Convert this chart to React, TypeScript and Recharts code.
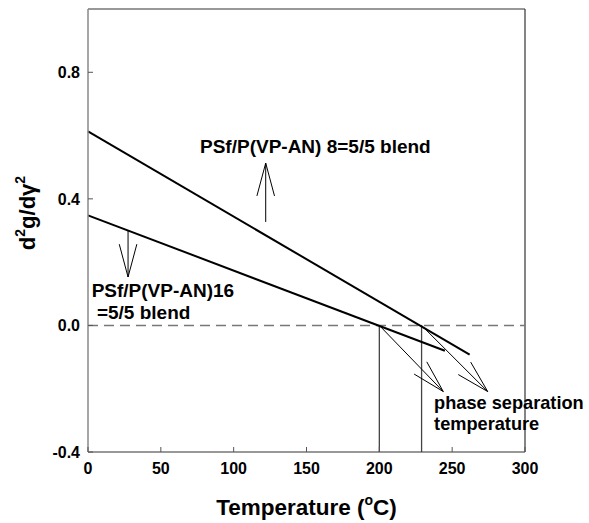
import { LineChart, Line, XAxis, YAxis, ReferenceLine, ReferenceDot } from 'recharts'

// straight-line fits (temperature in °C, d2g/dγ2)
const upperT = [0, 262]
const upperV = [0.613, -0.092]
const lowerT = [0, 245]
const lowerV = [0.348, -0.08]

const xTicks = [0, 50, 100, 150, 200, 250, 300]
const yTicks = [-0.4, 0, 0.4, 0.8]

// phase separation temperatures (zero crossings)
const phaseT = [200, 229]

// annotation arrows: tail -> tip, in data units
const arrowTails = [[122, 0.327], [27.5, 0.3], [200, 0], [229, 0]]
const arrowTips = [[122, 0.513], [27.5, 0.153], [243.9, -0.209], [274.4, -0.209]]

const blend8Label = ['PSf/P(VP-AN) 8=5/5 blend']
const blend16Label = ['PSf/P(VP-AN)16', ' =5/5 blend']
const phaseLabel = ['phase separation', 'temperature']
const labelAnchors = [[76.9, 0.545], [2.5, 0.0895], [237.6, -0.263]]

const FONT = '"Liberation Sans", Arial, sans-serif'

const upper = upperT.map((t, i) => ({ x: t, y: upperV[i] }))
const lower = lowerT.map((t, i) => ({ x: t, y: lowerV[i] }))

function Arrow(p: any) {
  const { x1, y1, x2, y2 } = p
  const ang = Math.atan2(y1 - y2, x1 - x2)
  const L = 34
  const a = (15 * Math.PI) / 180
  const h1x = x2 + L * Math.cos(ang + a)
  const h1y = y2 + L * Math.sin(ang + a)
  const h2x = x2 + L * Math.cos(ang - a)
  const h2y = y2 + L * Math.sin(ang - a)
  return (
    <g stroke="#000" strokeWidth={1} fill="none">
      <line x1={x1} y1={y1} x2={x2} y2={y2} />
      <line x1={x2} y1={y2} x2={h1x} y2={h1y} />
      <line x1={x2} y1={y2} x2={h2x} y2={h2y} />
    </g>
  )
}

const textBlock = (lines: string[], step: number, size: number) => (p: any) => (
  <text x={p.cx} y={p.cy} fontFamily={FONT} fontWeight="bold" fontSize={size} fill="#000" style={{ whiteSpace: 'pre' }}>
    {lines.map((s, i) => (
      <tspan key={i} x={p.cx} dy={i === 0 ? 0 : step}>{s}</tspan>
    ))}
  </text>
)

const XTick = (p: any) => (
  <g>
    <line x1={p.x} y1={p.y} x2={p.x} y2={p.y - 5} stroke="#555" />
    <text x={p.x} y={p.y + 22} textAnchor="middle" fontFamily={FONT} fontWeight="bold" fontSize={16} fill="#000">
      {p.payload.value}
    </text>
  </g>
)

const YTick = (p: any) => (
  <g>
    <line x1={p.x} y1={p.y} x2={p.x + 5} y2={p.y} stroke="#555" />
    <text x={p.x - 8} y={p.y + 6} textAnchor="end" fontFamily={FONT} fontWeight="bold" fontSize={16} fill="#000">
      {Number(p.payload.value).toFixed(1)}
    </text>
  </g>
)

export default function App() {
  const labels = [blend8Label, blend16Label, phaseLabel]
  const steps = [0, 22, 21]
  const sizes = [19, 19, 18.2]
  return (
    <div style={{ position: 'absolute', left: 0, top: 0, width: 589, height: 523, background: '#fff' }}>
      <LineChart width={589} height={523} margin={{ top: 9, right: 64, bottom: 0, left: 0 }}>
        <XAxis
          type="number"
          dataKey="x"
          domain={[0, 300]}
          ticks={xTicks}
          height={71}
          tickSize={0}
          tickMargin={0}
          tick={<XTick />}
          axisLine={{ stroke: '#333', strokeWidth: 1.2 }}
          label={{
            content: (lp: any) => {
              const vb = lp.viewBox
              return (
                <text x={vb.x + vb.width / 2} y={vb.y + 63} textAnchor="middle" fontFamily={FONT} fontWeight="bold" fontSize={22.5} fill="#000">
                  Temperature (<tspan fontSize={14} dy={-10}>o</tspan><tspan dy={10}>C)</tspan>
                </text>
              )
            },
          }}
        />
        <YAxis
          type="number"
          domain={[-0.4, 1.0]}
          ticks={yTicks}
          width={88}
          tickSize={0}
          tickMargin={0}
          tick={<YTick />}
          axisLine={{ stroke: '#888', strokeWidth: 1.5 }}
          label={{
            content: () => (
              <text x={35} y={213} transform="rotate(-90 35 213)" textAnchor="middle" fontFamily={FONT} fontWeight="bold" fontSize={22} fill="#000">
                d<tspan fontSize={14} dy={-10}>2</tspan><tspan dy={10}>g/d</tspan>γ<tspan fontSize={14} dy={-10}>2</tspan>
              </text>
            ),
          }}
        />
        {/* frame */}
        <ReferenceLine y={1.0} stroke="#333" strokeWidth={1.2} />
        <ReferenceLine x={300} stroke="#333" strokeWidth={1.2} />
        <ReferenceLine y={0} stroke="#777" strokeWidth={1.5} strokeDasharray="10 6" />
        {phaseT.map((t) => (
          <ReferenceLine key={t} segment={[{ x: t, y: 0 }, { x: t, y: -0.4 }]} stroke="#444" strokeWidth={1.3} />
        ))}
        <Line data={upper} dataKey="y" stroke="#000" strokeWidth={2} dot={false} isAnimationActive={false} />
        <Line data={lower} dataKey="y" stroke="#000" strokeWidth={2} dot={false} isAnimationActive={false} />
        {arrowTails.map((t, i) => (
          <ReferenceLine
            key={'a' + i}
            segment={[{ x: t[0], y: t[1] }, { x: arrowTips[i][0], y: arrowTips[i][1] }]}
            shape={(p: any) => <Arrow {...p} />}
          />
        ))}
        {labels.map((l, i) => (
          <ReferenceDot
            key={'l' + i}
            x={labelAnchors[i][0]}
            y={labelAnchors[i][1]}
            r={1}
            shape={textBlock(l, steps[i], sizes[i])}
          />
        ))}
      </LineChart>
    </div>
  )
}
